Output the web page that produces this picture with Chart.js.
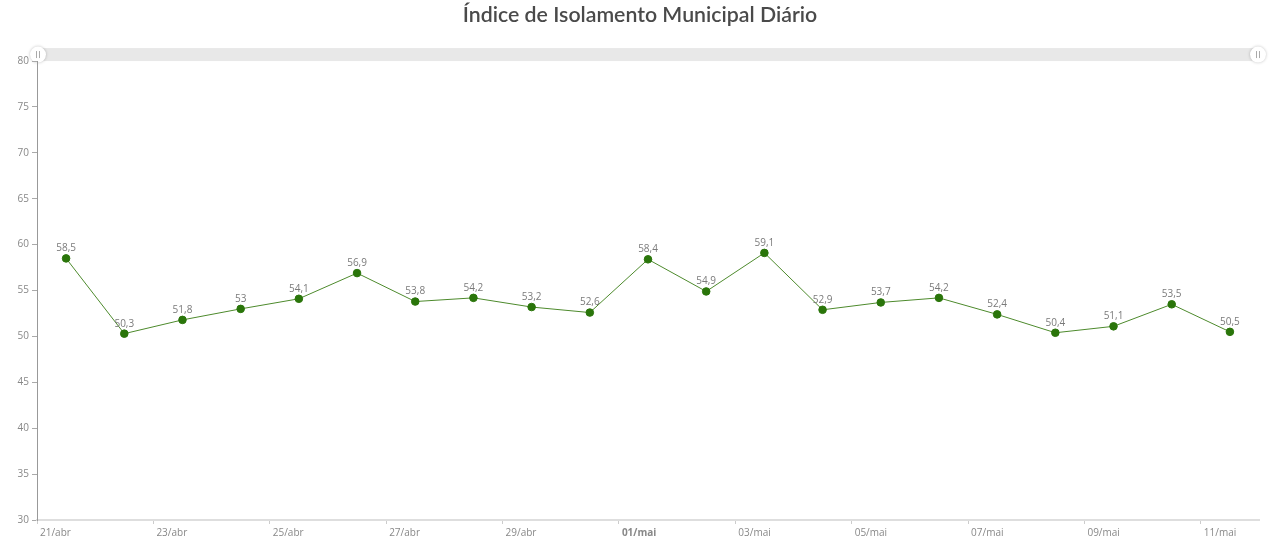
<!DOCTYPE html>
<html>
<head>
<meta charset="utf-8">
<title>Índice de Isolamento Municipal Diário</title>
<script src="https://cdn.jsdelivr.net/npm/chart.js@4.4.1/dist/chart.umd.min.js"></script>
<style>
  html, body { margin: 0; padding: 0; background: #fff; }
  #wrap { width: 1280px; height: 544px; }
</style>
</head>
<body>
<div id="wrap"><canvas id="isolamento"></canvas></div>
<script>
// dias (21/abr a 11/mai) e indice diario
var days = ['21/abr', '22/abr', '23/abr', '24/abr', '25/abr', '26/abr', '27/abr', '28/abr', '29/abr', '30/abr',
            '01/mai', '02/mai', '03/mai', '04/mai', '05/mai', '06/mai', '07/mai', '08/mai', '09/mai', '10/mai', '11/mai'];
var isolation = [58.5, 50.3, 51.8, 53, 54.1, 56.9, 53.8, 54.2, 53.2, 52.6,
                 58.4, 54.9, 59.1, 52.9, 53.7, 54.2, 52.4, 50.4, 51.1, 53.5, 50.5];
var y_ticks = [30, 35, 40, 45, 50, 55, 60, 65, 70, 75, 80];
var bold_day = '01/mai';

function fmt(v) {
    return String(v).replace('.', ',');
}

// rotulos de valor acima dos pontos
var valueLabels = {
    id: 'valueLabels',
    afterDatasetsDraw: function(chart) {
        var ctx = chart.ctx;
        var meta = chart.getDatasetMeta(0);
        ctx.save();
        ctx.font = '10px "Open Sans", sans-serif';
        ctx.fillStyle = '#7a7a7a';
        ctx.textAlign = 'center';
        ctx.textBaseline = 'bottom';
        meta.data.forEach(function(pt, i) {
            ctx.fillText(fmt(isolation[i]), pt.x, pt.y - 5);
        });
        ctx.restore();
    }
};

// barra de rolagem decorativa no topo
var scrollBar = {
    id: 'scrollBar',
    beforeDraw: function(chart) {
        var ctx = chart.ctx;
        var a = chart.chartArea;
        var y = a.top - 13;
        ctx.save();
        ctx.fillStyle = '#e8e8e8';
        ctx.fillRect(a.left, y, a.right - a.left, 13);
        [a.left + 1, a.right - 1].forEach(function(cx) {
            ctx.save();
            ctx.shadowColor = 'rgba(0,0,0,0.25)';
            ctx.shadowBlur = 3;
            ctx.beginPath();
            ctx.arc(cx, y + 6.5, 8, 0, Math.PI * 2);
            ctx.fillStyle = '#fff';
            ctx.fill();
            ctx.restore();
            ctx.strokeStyle = '#aaa';
            ctx.lineWidth = 1;
            ctx.beginPath();
            ctx.moveTo(cx - 1.5, y + 3); ctx.lineTo(cx - 1.5, y + 10);
            ctx.moveTo(cx + 1.5, y + 3); ctx.lineTo(cx + 1.5, y + 10);
            ctx.stroke();
        });
        ctx.restore();
    }
};

var canvas = document.getElementById('isolamento');
var myChart = new Chart(canvas, {
    type: 'line',
    data: {
        datasets: [{
            label: 'Índice de Isolamento',
            data: isolation.map(function(v, i) { return {x: i, y: v}; }),
            borderColor: '#4d8a2c',
            borderWidth: 1,
            pointBackgroundColor: '#2a750a',
            pointBorderColor: '#2a750a',
            pointRadius: 3.8,
            pointHoverRadius: 5,
            tension: 0,
            fill: false
        }]
    },
    plugins: [scrollBar, valueLabels],
    options: {
        responsive: true,
        maintainAspectRatio: false,
        animation: false,
        layout: { padding: 0 },
        plugins: {
            legend: { display: false },
            title: {
                display: true,
                text: 'Índice de Isolamento Municipal Diário',
                color: '#4a4a4a',
                font: { family: 'Lato', size: 21.3, weight: '600', lineHeight: 1.2 },
                padding: { top: 2.5, bottom: 33 }
            },
            tooltip: {
                callbacks: {
                    title: function(items) { return days[items[0].dataIndex]; },
                    label: function(item) { return fmt(item.parsed.y); }
                }
            }
        },
        scales: {
            x: {
                type: 'linear',
                min: -0.5,
                max: days.length - 0.5,
                afterBuildTicks: function(axis) {
                    var t = [];
                    for (var i = 0; i < days.length; i += 2) t.push({value: i - 0.5});
                    axis.ticks = t;
                },
                afterFit: function(axis) { axis.height = 24; },
                ticks: {
                    align: 'start',
                    labelOffset: 3,
                    padding: 3,
                    maxRotation: 0,
                    autoSkip: false,
                    color: '#888',
                    font: function(c) {
                        var bold = c.tick && days[Math.round(c.tick.value + 0.5)] === bold_day;
                        return { family: '"Open Sans", sans-serif', size: 10, weight: bold ? 'bold' : 'normal' };
                    },
                    callback: function(v) { return days[Math.round(v + 0.5)]; }
                },
                grid: { drawOnChartArea: false, drawTicks: true, tickLength: 4, color: '#ccc' },
                border: { color: '#dedede', width: 2 }
            },
            y: {
                min: 30,
                max: 80,
                afterBuildTicks: function(axis) {
                    axis.ticks = y_ticks.map(function(v) { return {value: v}; });
                },
                afterFit: function(axis) { axis.width = 37; },
                ticks: {
                    color: '#888',
                    padding: 3,
                    font: { family: '"Open Sans", sans-serif', size: 10 }
                },
                grid: { drawOnChartArea: false, drawTicks: true, tickLength: 5, color: '#aaa' },
                border: { color: '#999', width: 1 }
            },
            // eixo vazio so para reservar a margem direita
            yRight: {
                position: 'right',
                min: 30,
                max: 80,
                afterFit: function(axis) { axis.width = 21; },
                ticks: { display: false },
                grid: { display: false },
                border: { display: false }
            }
        }
    }
});
window.myChart = myChart;
</script>
</body>
</html>
